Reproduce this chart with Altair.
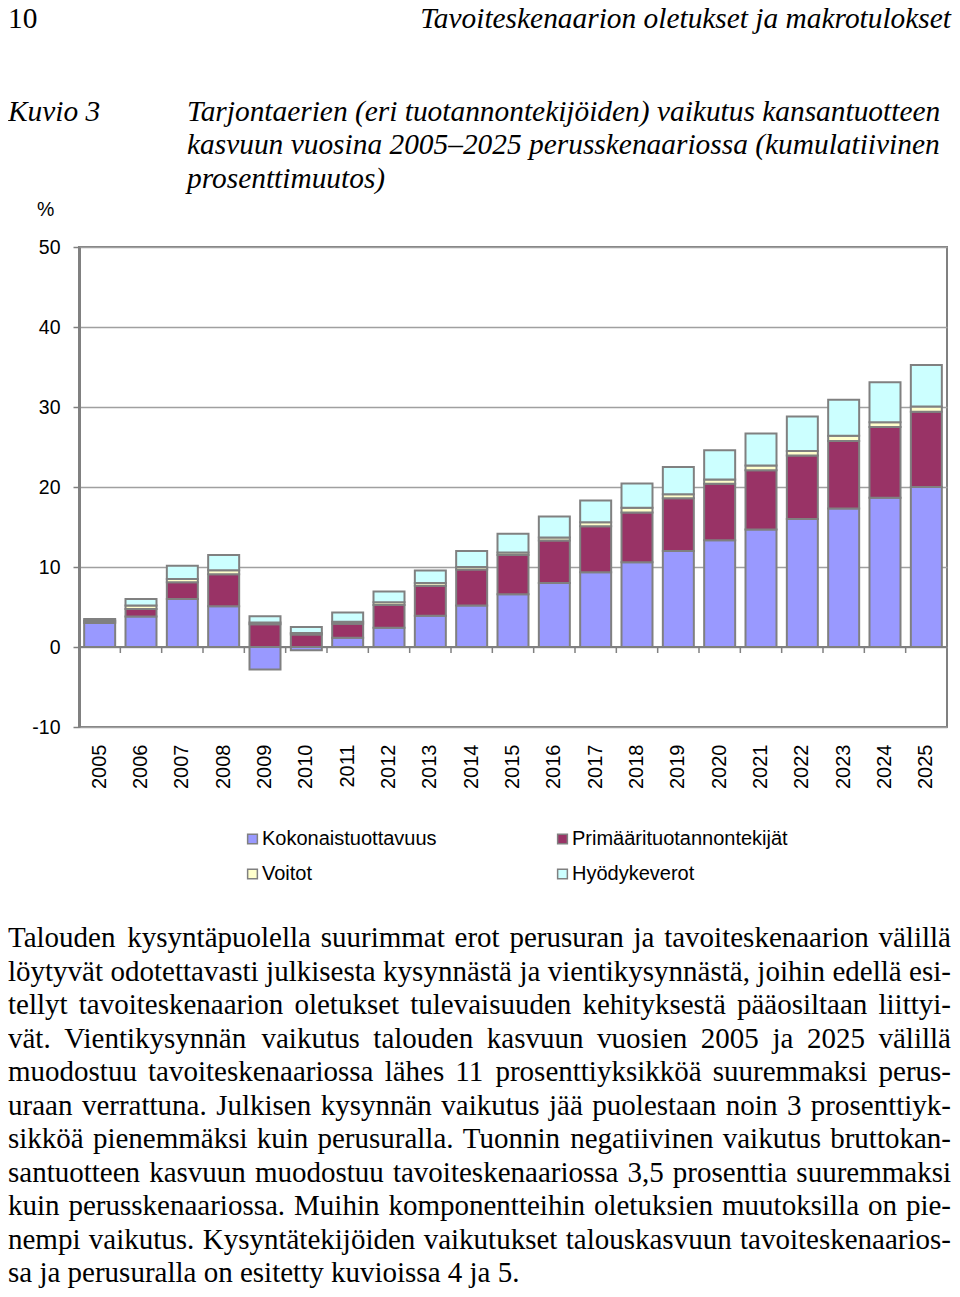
import altair as alt
import pandas as pd

# ---------------- data ----------------
years = [str(y) for y in range(2005, 2026)]
series = ["Kokonaistuottavuus", "Primäärituotannontekijät", "Voitot", "Hyödykeverot"]
colors = ["#9999FF", "#993366", "#FFFFCC", "#CCFFFF"]

kokonaistuottavuus = [3.0, 3.8, 6.0, 5.1, -2.8, -0.4, 1.15, 2.4, 3.9, 5.2, 6.6,
                      8.0, 9.35, 10.6, 12.0, 13.35, 14.7, 16.0, 17.3, 18.65, 20.0]
primaari = [0.2, 0.95, 2.1, 4.0, 2.85, 1.55, 1.75, 2.85, 3.75, 4.5, 4.9,
            5.3, 5.75, 6.2, 6.6, 7.05, 7.4, 7.95, 8.45, 8.85, 9.4]
voitot = [0.1, 0.45, 0.4, 0.5, 0.2, 0.2, 0.25, 0.35, 0.35, 0.3, 0.3,
          0.4, 0.5, 0.6, 0.5, 0.55, 0.6, 0.55, 0.65, 0.6, 0.65]
hyodykeverot = [0.2, 0.8, 1.65, 1.9, 0.8, 0.75, 1.15, 1.35, 1.55, 2.0, 2.35,
                2.6, 2.7, 3.05, 3.4, 3.65, 4.0, 4.3, 4.5, 5.0, 5.2]
y_ticks = [-10, 0, 10, 20, 30, 40, 50]

header_left = "10"
header_right = "Tavoiteskenaarion oletukset ja makrotulokset"
figure_label = "Kuvio 3"
title_lines = [
    "Tarjontaerien (eri tuotannontekijöiden) vaikutus kansantuotteen",
    "kasvuun vuosina 2005–2025 perusskenaariossa (kumulatiivinen",
    "prosenttimuutos)",
]
unit_label = "%"
body_lines = [
    "Talouden kysyntäpuolella suurimmat erot perusuran ja tavoiteskenaarion välillä",
    "löytyvät odotettavasti julkisesta kysynnästä ja vientikysynnästä, joihin edellä esi-",
    "tellyt tavoiteskenaarion oletukset tulevaisuuden kehityksestä pääosiltaan liittyi-",
    "vät. Vientikysynnän vaikutus talouden kasvuun vuosien 2005 ja 2025 välillä",
    "muodostuu tavoiteskenaariossa lähes 11 prosenttiyksikköä suuremmaksi perus-",
    "uraan verrattuna. Julkisen kysynnän vaikutus jää puolestaan noin 3 prosenttiyk-",
    "sikköä pienemmäksi kuin perusuralla. Tuonnin negatiivinen vaikutus bruttokan-",
    "santuotteen kasvuun muodostuu tavoiteskenaariossa 3,5 prosenttia suuremmaksi",
    "kuin perusskenaariossa. Muihin komponentteihin oletuksien muutoksilla on pie-",
    "nempi vaikutus. Kysyntätekijöiden vaikutukset talouskasvuun tavoiteskenaarios-",
    "sa ja perusuralla on esitetty kuvioissa 4 ja 5.",
]

# ---------------- tables ----------------
values = [kokonaistuottavuus, primaari, voitot, hyodykeverot]
rows = []
for si, (name, vals) in enumerate(zip(series, values)):
    for yr, v in zip(years, vals):
        rows.append({"year": yr, "series": name, "value": v, "ord": si})
df = pd.DataFrame(rows)

# ---------------- layout ----------------
W, H = 868, 480
PX0, PY0 = 79, 247  # page position of plot origin
PAGE_L, PAGE_R = 8, 951  # drawable page range (body margin 8)
SERIF = "Liberation Serif"
SANS = "Liberation Sans"
HEAD_SIZE = 29.4

# Times/Liberation Serif advance widths (per 1000 em) for justification
TW = dict(zip("abcdefghijklmnopqrstuvwxyz",
              [444, 500, 444, 500, 444, 333, 500, 500, 278, 278, 500, 278, 778,
               500, 500, 500, 500, 333, 389, 278, 500, 500, 722, 500, 500, 444]))
TW.update({"ä": 444, "ö": 500, " ": 250, ".": 250, ",": 250, "-": 333,
           "T": 611, "V": 722, "J": 389, "K": 722, "M": 889})
for d in "0123456789":
    TW[d] = 500


def tw(s, size):
    return sum(TW.get(c, 500) for c in s) / 1000.0 * size


BODY_SIZE = 29
left_x = PAGE_L - PX0
right_x = PAGE_R - PX0
words = []
for i, line in enumerate(body_lines):
    ws = line.split(" ")
    base_y = 947 - PY0 + 33.5 * i
    widths = [tw(w, BODY_SIZE) for w in ws]
    if i < len(body_lines) - 1 and len(ws) > 1:
        gap = (right_x - left_x - sum(widths)) / (len(ws) - 1)
        gap = max(gap, 0.15 * BODY_SIZE)
    else:
        gap = 0.25 * BODY_SIZE
    x = left_x
    for w, wd in zip(ws, widths):
        words.append({"t": w, "px": x, "py": base_y})
        x += wd + gap
words_df = pd.DataFrame(words)


def text_layer(df_, **mark):
    return alt.Chart(df_).mark_text(**mark).encode(
        x=alt.X("px:Q", scale=None, axis=None),
        y=alt.Y("py:Q", scale=None, axis=None),
        text="t:N",
    )


color_scale = alt.Scale(domain=series, range=colors)

bars = alt.Chart(df).mark_bar(stroke="#808080", strokeWidth=2).encode(
    x=alt.X("year:N", sort=years,
            scale=alt.Scale(paddingInner=0.25, paddingOuter=0.125),
            axis=alt.Axis(title=None, orient="bottom", labelAngle=-90, labelFont=SANS,
                          labelFontSize=20, labelColor="black", ticks=False, domain=False,
                          grid=False, labelPadding=17)),
    y=alt.Y("value:Q", stack="zero",
            scale=alt.Scale(domain=[-10, 50], nice=False, zero=False),
            axis=alt.Axis(title=None, orient="left", values=y_ticks, grid=True,
                          gridColor="#a0a0a0", gridWidth=1.5, domain=True,
                          domainColor="#808080", domainWidth=3,
                          tickSize=6, tickColor="#808080", tickWidth=1.5,
                          labelPadding=13, labelFont=SANS, labelFontSize=19.5,
                          labelColor="black", labelExpr="toString(datum.value)")),
    color=alt.Color("series:N", scale=color_scale, legend=None),
    order=alt.Order("ord:Q"),
)

zero_line = alt.Chart(pd.DataFrame({"v": [0]})).mark_rule(
    color="#808080", strokeWidth=2).encode(y=alt.Y("v:Q", axis=None))

zero_ticks = alt.Chart(pd.DataFrame({"b": list(range(1, len(years))),
                                     "y0": 0.0, "y1": -0.75})).mark_rule(
    color="#808080", strokeWidth=1.5).encode(
    x=alt.X("b:Q", scale=alt.Scale(domain=[0, len(years)], nice=False, zero=False), axis=None),
    y=alt.Y("y0:Q", axis=None),
    y2="y1:Q",
)

# legend (2 columns)
leg_rows = []
for i, s in enumerate(series):
    col, row = i % 2, i // 2
    leg_rows.append({"series": s, "t": s,
                     "sx": 173.5 + 310 * col, "px": 183 + 310 * col,
                     "py": 592 + 35 * row})
leg_df = pd.DataFrame(leg_rows)
leg_sq = alt.Chart(leg_df).mark_square(size=95, stroke="#808080", strokeWidth=1.5, opacity=1).encode(
    x=alt.X("sx:Q", scale=None, axis=None),
    y=alt.Y("py:Q", scale=None, axis=None),
    color=alt.Color("series:N", scale=color_scale, legend=None),
)
leg_txt = text_layer(leg_df, font=SANS, fontSize=20, align="left", baseline="middle", color="black")

hdr_l = text_layer(pd.DataFrame([{"t": header_left, "px": PAGE_L - PX0, "py": 28 - PY0}]),
                   font=SERIF, fontSize=HEAD_SIZE, align="left", baseline="alphabetic", color="black")
hdr_r = text_layer(pd.DataFrame([{"t": header_right, "px": PAGE_R - PX0, "py": 28 - PY0}]),
                   font=SERIF, fontSize=HEAD_SIZE, fontStyle="italic", align="right",
                   baseline="alphabetic", color="black")
fig_lab = text_layer(pd.DataFrame([{"t": figure_label, "px": PAGE_L - PX0, "py": 120.5 - PY0}]),
                     font=SERIF, fontSize=HEAD_SIZE, fontStyle="italic", align="left",
                     baseline="alphabetic", color="black")
title_df = pd.DataFrame([{"t": t, "px": 187 - PX0, "py": 120.5 - PY0 + 33.5 * i}
                         for i, t in enumerate(title_lines)])
title = text_layer(title_df, font=SERIF, fontSize=HEAD_SIZE, fontStyle="italic", align="left",
                   baseline="alphabetic", color="black")
unit = text_layer(pd.DataFrame([{"t": unit_label, "px": 37 - PX0, "py": 210 - PY0}]),
                  font=SANS, fontSize=19.5, align="left", baseline="middle", color="black")
body = text_layer(words_df, font=SERIF, fontSize=BODY_SIZE, align="left",
                  baseline="alphabetic", color="black")

chart = alt.layer(
    bars, zero_line, zero_ticks, leg_sq, leg_txt,
    hdr_l, hdr_r, fig_lab, title, unit, body,
).resolve_scale(x="independent").resolve_axis(x="independent", y="independent").properties(
    width=W, height=H,
    autosize=alt.AutoSizeParams(type="none"),
    padding={"left": 71, "top": 239, "right": 5, "bottom": 562},
    background="white",
).configure_view(stroke="#808080", strokeWidth=2)

chart.save("out.html", embed_options={"renderer": "svg", "actions": False})
